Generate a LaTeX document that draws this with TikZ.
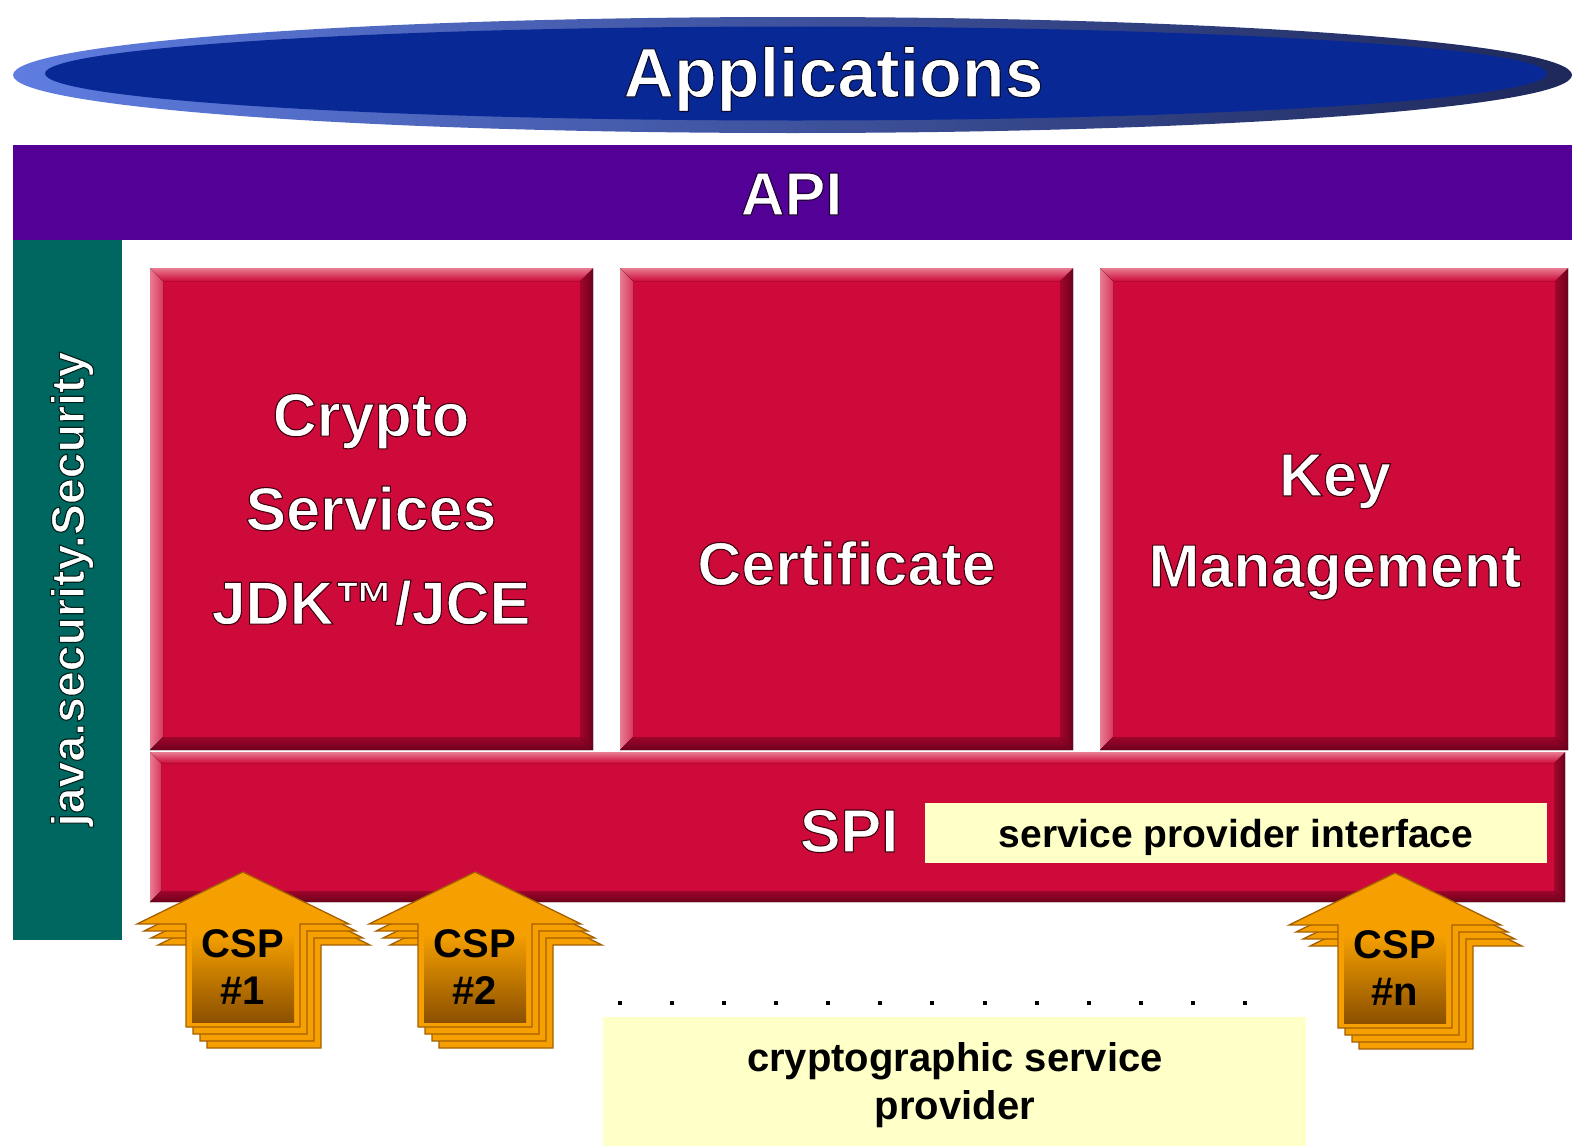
\documentclass[tikz,border=0pt]{standalone}
\usepackage{fontspec}
\setmainfont{Liberation Sans}
\usetikzlibrary{calc}

\definecolor{bluein}{RGB}{8,40,150}
\definecolor{rimlight}{RGB}{95,125,225}
\definecolor{rimdark}{RGB}{30,40,90}
\definecolor{apipurple}{RGB}{82,0,150}
\definecolor{tealbar}{RGB}{0,102,96}
\definecolor{boxred}{RGB}{205,10,58}
\definecolor{bevellight}{RGB}{232,125,145}
\definecolor{beveldark}{RGB}{110,0,28}
\definecolor{noteyellow}{RGB}{255,255,200}
\definecolor{csporange}{RGB}{245,160,0}
\definecolor{cspedge}{RGB}{165,95,0}
\definecolor{cspbrown}{RGB}{140,80,0}

\newcommand\halo[2]{\special{pdf:literal direct 2 Tr 1.1 w 1 j #1 RG}#2\special{pdf:literal direct 0 Tr}}

\newcommand\bevelbox[2]{%
  \fill[left color=bevellight, right color=bevellight!40!boxred] (#1.north west) -- ($(#1.north west)+(#2,#2)$) -- ($(#1.south west)+(#2,-#2)$) -- (#1.south west) -- cycle;
  \fill[left color=boxred!55!beveldark, right color=beveldark] (#1.north east) -- ($(#1.north east)+(-#2,#2)$) -- ($(#1.south east)+(-#2,-#2)$) -- (#1.south east) -- cycle;
  \fill[top color=bevellight, bottom color=boxred] (#1.north west) -- (#1.north east) -- ($(#1.north east)+(-#2,#2)$) -- ($(#1.north west)+(#2,#2)$) -- cycle;
  \fill[top color=boxred!50!beveldark, bottom color=beveldark] (#1.south west) -- (#1.south east) -- ($(#1.south east)+(-#2,-#2)$) -- ($(#1.south west)+(#2,-#2)$) -- cycle;
}

\newcommand\csparrow[4]{%
  \begin{scope}[shift={(#2,#3)}]
    \foreach \off in {21,14,7} {
      \filldraw[cspshape, shift={(\off,\off)}] (0,0) -- (106,52) -- (57,52) -- (57,155) -- (-57,155) -- (-57,52) -- (-106,52) -- cycle;
    }
    \filldraw[cspshape] (0,0) -- (106,52) -- (57,52) -- (57,155) -- (-57,155) -- (-57,52) -- (-106,52) -- cycle;
    \fill[top color=csporange, bottom color=cspbrown] (-51,62) rectangle (51,150);
    \node[csptext] (#1) at (0,95) {CSP\\#4};
  \end{scope}}

\begin{document}
\begin{tikzpicture}[x=1pt,y=-1pt,
  plain/.style={inner sep=0, outer sep=0},
  wtext/.style={plain, text=white, align=center},
  bigw/.style={wtext, font=\bfseries\fontsize{61}{94}\selectfont},
  redbox/.style={plain, fill=boxred, anchor=north west},
  note/.style={plain, fill=noteyellow, anchor=north west},
  notetext/.style={plain, text=black, align=center, font=\bfseries\fontsize{40}{48}\selectfont},
  cspshape/.style={fill=csporange, draw=cspedge, line width=1.3, line join=miter},
  csptext/.style={plain, text=black, align=center, font=\bfseries\fontsize{40}{47}\selectfont}]
\useasboundingbox (0,0) rectangle (1572,1146);
\fill[white] (0,0) rectangle (1572,1146);

% Applications ellipse
\path[left color=rimlight, right color=rimdark] (792.5,75) ellipse [x radius=779.5, y radius=58];
\fill[bluein] (796,73.5) ellipse [x radius=751, y radius=47];
\node[wtext, anchor=base, font=\bfseries\fontsize{70}{80}\selectfont] (apps) at (833.5,97) {\halo{0.03 0.05 0.2}{Applications}};

% API bar
\node[plain, fill=apipurple, anchor=north west, minimum width=1559, minimum height=95] (api) at (13,145) {};
\node[bigw, anchor=base] (apilabel) at (791.5,215) {\halo{0.12 0 0.22}{API}};

% java.security.Security bar
\node[plain, fill=tealbar, anchor=north west, minimum width=109, minimum height=700] (secbar) at (13,240) {};
\node[wtext, rotate=90, anchor=base, font=\bfseries\fontsize{46.5}{50}\selectfont] (seclabel) at (84,589) {\halo{0 0.12 0.1}{java.security.Security}};

% red boxes
\node[redbox, minimum width=443, minimum height=482] (crypto) at (150,268) {};
\node[redbox, minimum width=453, minimum height=482] (cert) at (620,268) {};
\node[redbox, minimum width=468, minimum height=482] (key) at (1100,268) {};
\bevelbox{crypto}{13}
\bevelbox{cert}{13}
\bevelbox{key}{13}

% SPI bar
\node[redbox, minimum width=1415, minimum height=150] (spi) at (150,752) {};
\bevelbox{spi}{11}

\node[bigw] (cryptolabel) at (371,509.5) {\halo{0.25 0 0.06}{Crypto\\Services\\JDK™/JCE}};
\node[bigw, anchor=base] (certlabel) at (846.5,585) {\halo{0.25 0 0.06}{Certificate}};
\node[wtext, font=\bfseries\fontsize{61}{91}\selectfont] (keylabel) at (1335,527) {\halo{0.25 0 0.06}{Key\\Management}};
\node[bigw, anchor=base] (spilabel) at (849,852) {\halo{0.25 0 0.06}{SPI}};

% SPI note
\node[note, minimum width=622, minimum height=60] (spinote) at (925,803) {};
\node[notetext, anchor=base, font=\bfseries\fontsize{39}{46}\selectfont] (spinotetext) at (1236,847) {service provider interface};

% CSP arrows
\csparrow{csp1}{243}{872}{\#1}
\csparrow{csp2}{475}{872}{\#2}
\csparrow{cspn}{1395}{873}{\#n}

% dots
\foreach \i in {0,...,12} {
  \fill[black] ({620+52.08*\i-2},1001) rectangle ++(4,4);
}

% CSP note
\node[note, minimum width=703, minimum height=129] (cspnote) at (603,1017) {};
\node[notetext] (cspnotetext) at (955,1085.5) {cryptographic service\\provider};
\end{tikzpicture}
\end{document}
